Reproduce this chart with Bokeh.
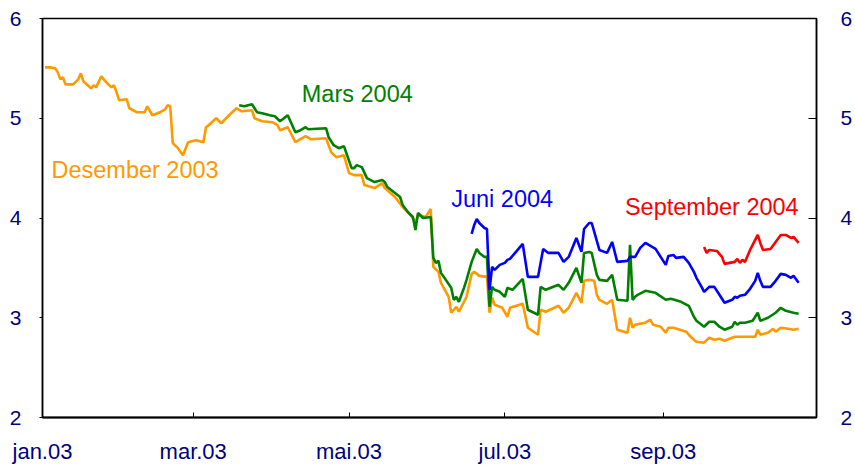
import pandas as pd
from bokeh.plotting import figure
from bokeh.models import LinearAxis, FixedTicker, Range1d
from bokeh.core.properties import value
from bokeh.embed import file_html
from bokeh.resources import INLINE

base = pd.Timestamp("2003-01-01")
x_end = pd.Timestamp("2003-10-31")

tick_dates = ["2003-01-01", "2003-03-01", "2003-05-01", "2003-07-01", "2003-09-01"]
tick_labels = ["jan.03", "mar.03", "mai.03", "jul.03", "sep.03"]
y_ticks = [2, 3, 4, 5, 6]

series_names = ["Desember 2003", "Mars 2004", "Juni 2004", "September 2004"]
series_colors = ["#FF9900", "#008000", "#0000FF", "#FF0000"]

# days since 2003-01-01, values in percent
des03_day = [1, 3, 5, 6, 7, 8, 9, 12, 14, 15, 16, 19, 20, 21, 23, 25, 27, 28, 29, 30,
             33, 34, 37, 40, 41, 43, 46, 48, 49, 50, 51, 53, 55, 57, 60, 63, 64, 65, 68, 70,
             73, 76, 78, 82, 83, 86, 90, 92, 93, 96, 99, 103, 105, 111, 113, 115, 118, 120, 122, 125,
             126, 130, 133, 134, 138, 141, 143, 145, 146, 147, 150, 152, 153, 155, 156, 159, 160, 162, 163, 166,
             168, 169, 171, 174, 175, 176, 177, 180, 182, 183, 188, 190, 194, 195, 197, 202, 204, 206, 209, 211,
             212, 214, 216, 217, 218, 221, 223, 225, 229, 230, 231, 232, 236, 238, 239, 242, 244, 245, 247, 252,
             253, 255, 256, 259, 261, 263, 265, 267, 271, 279, 280, 281, 284, 286, 287, 289, 292, 294, 296]
des03_val = [5.51, 5.51, 5.50, 5.46, 5.39, 5.41, 5.34, 5.34, 5.39, 5.45, 5.37, 5.30, 5.33, 5.31, 5.42, 5.36, 5.31, 5.33, 5.26, 5.18,
             5.19, 5.10, 5.06, 5.06, 5.12, 5.03, 5.06, 5.09, 5.13, 5.12, 4.75, 4.70, 4.63, 4.76, 4.78, 4.76, 4.91, 4.93, 5.00, 4.95,
             5.03, 5.10, 5.07, 5.08, 5.00, 4.97, 4.96, 4.93, 4.88, 4.91, 4.76, 4.82, 4.79, 4.80, 4.66, 4.61, 4.63, 4.45, 4.43, 4.43,
             4.33, 4.30, 4.35, 4.30, 4.21, 4.11, 4.06, 4.00, 3.95, 4.03, 4.01, 4.09, 3.51, 3.46, 3.35, 3.21, 3.05, 3.11, 3.06, 3.21,
             3.44, 3.46, 3.42, 3.41, 3.05, 3.20, 3.13, 3.10, 3.01, 3.10, 3.14, 2.90, 2.83, 3.08, 3.06, 3.12, 3.05, 3.10, 3.25, 3.15,
             3.37, 3.38, 3.37, 3.23, 3.18, 3.14, 3.18, 2.88, 2.85, 3.00, 2.90, 2.93, 2.95, 2.98, 2.93, 2.91, 2.85, 2.90, 2.90, 2.86,
             2.83, 2.78, 2.76, 2.75, 2.80, 2.78, 2.79, 2.77, 2.81, 2.81, 2.88, 2.83, 2.85, 2.89, 2.86, 2.90, 2.89, 2.88, 2.89]

mar04_day = [77, 79, 82, 84, 86, 89, 91, 93, 96, 99, 101, 103, 104, 111, 112, 114, 116, 118, 121, 122,
             123, 125, 127, 130, 133, 134, 135, 138, 140, 141, 143, 145, 146, 147, 149, 152, 153, 154, 155, 156,
             160, 161, 162, 163, 165, 166, 168, 170, 171, 173, 174, 175, 176, 177, 179, 181, 182, 184, 188, 190,
             194, 195, 197, 202, 204, 206, 209, 211, 212, 214, 215, 217, 218, 221, 223, 225, 229, 230, 231, 232,
             233, 236, 238, 240, 244, 246, 250, 253, 255, 256, 258, 259, 261, 263, 265, 267, 270, 271, 272, 273,
             275, 278, 280, 281, 284, 287, 289, 291, 294, 296]
mar04_val = [5.13, 5.12, 5.14, 5.06, 5.05, 5.03, 5.02, 4.97, 5.03, 4.86, 4.88, 4.91, 4.89, 4.90, 4.81, 4.73, 4.70, 4.72, 4.50, 4.50,
             4.53, 4.51, 4.40, 4.36, 4.38, 4.36, 4.31, 4.25, 4.21, 4.13, 4.06, 4.01, 3.88, 4.05, 4.00, 4.01, 3.60, 3.55, 3.57, 3.45,
             3.30, 3.18, 3.21, 3.16, 3.30, 3.38, 3.56, 3.69, 3.65, 3.61, 3.61, 3.11, 3.31, 3.28, 3.26, 3.21, 3.30, 3.28, 3.39, 3.08,
             3.03, 3.31, 3.28, 3.33, 3.28, 3.35, 3.50, 3.35, 3.65, 3.66, 3.65, 3.43, 3.38, 3.37, 3.43, 3.18, 3.17, 3.73, 3.18, 3.21,
             3.23, 3.27, 3.26, 3.25, 3.18, 3.19, 3.16, 3.12, 3.01, 2.97, 2.93, 2.91, 2.96, 2.96, 2.91, 2.88, 2.91, 2.96, 2.93, 2.95,
             2.95, 2.97, 3.05, 2.97, 3.00, 3.05, 3.10, 3.07, 3.05, 3.04]

jun04_day = [168, 169, 170, 171, 173, 174, 175, 176, 177, 179, 181, 182, 183, 186, 188, 190, 194, 196, 198, 202,
             204, 206, 209, 211, 212, 214, 215, 216, 218, 221, 223, 225, 229, 230, 232, 234, 236, 238, 240, 244,
             245, 247, 248, 251, 253, 255, 256, 258, 259, 261, 263, 265, 267, 270, 271, 272, 273, 275, 277, 279,
             280, 281, 282, 285, 287, 289, 291, 293, 294, 296]
jun04_val = [3.84, 3.93, 3.99, 3.95, 3.90, 3.89, 3.28, 3.51, 3.48, 3.53, 3.55, 3.58, 3.59, 3.68, 3.74, 3.41, 3.41, 3.69, 3.65, 3.65,
             3.56, 3.61, 3.80, 3.66, 3.89, 3.95, 3.95, 3.86, 3.68, 3.65, 3.76, 3.56, 3.57, 3.61, 3.61, 3.70, 3.75, 3.72, 3.69, 3.53,
             3.62, 3.63, 3.60, 3.61, 3.55, 3.46, 3.40, 3.31, 3.26, 3.31, 3.31, 3.23, 3.15, 3.18, 3.21, 3.20, 3.22, 3.23, 3.29, 3.37,
             3.45, 3.37, 3.31, 3.31, 3.37, 3.44, 3.43, 3.40, 3.42, 3.35]

sep04_day = [259, 260, 261, 264, 266, 267, 271, 272, 273, 274, 275, 277, 280, 281, 282, 285, 287, 289, 291, 293,
             294, 296]
sep04_val = [3.71, 3.65, 3.68, 3.67, 3.61, 3.54, 3.56, 3.59, 3.55, 3.58, 3.56, 3.68, 3.83, 3.75, 3.68, 3.69, 3.76, 3.83, 3.83, 3.80,
             3.81, 3.75]

series = [(des03_day, des03_val), (mar04_day, mar04_val), (jun04_day, jun04_val), (sep04_day, sep04_val)]

def to_dates(days):
    return base + pd.to_timedelta(days, unit="D")

FONT = "Liberation Sans"
NAVY = "#000080"

p = figure(width=855, height=469, x_axis_type="datetime",
           x_range=Range1d(base, x_end), y_range=Range1d(2, 6),
           output_backend="svg", toolbar_location=None,
           min_border_left=42, min_border_right=36, min_border_top=18, min_border_bottom=52)
p.xgrid.visible = False
p.ygrid.visible = False
p.outline_line_color = "black"
p.outline_line_width = 1.5
p.background_fill_color = "white"
p.border_fill_color = "white"

tick_ms = [int(pd.Timestamp(d).value // 10**6) for d in tick_dates]
xa = p.xaxis[0]
xa.ticker = FixedTicker(ticks=tick_ms)
xa.major_label_overrides = {t: lab for t, lab in zip(tick_ms, tick_labels)}
xa.major_tick_in = 5
xa.major_tick_out = 0
xa.minor_tick_line_color = None
xa.axis_line_width = 2
xa.axis_line_color = "black"
xa.major_tick_line_color = "black"
xa.major_label_text_font = FONT
xa.major_label_text_font_size = "22px"
xa.major_label_text_color = NAVY
xa.major_label_standoff = 21

ya = p.yaxis[0]
ya.ticker = FixedTicker(ticks=y_ticks)
ya.major_tick_in = 0
ya.major_tick_out = 3
ya.minor_tick_line_color = None
ya.axis_line_width = 1.5
ya.axis_line_color = "black"
ya.major_label_text_font = FONT
ya.major_label_text_font_size = "21px"
ya.major_label_text_color = NAVY
ya.major_label_standoff = 18

ra = LinearAxis(ticker=FixedTicker(ticks=y_ticks))
ra.major_tick_in = 8
ra.major_tick_out = 0
ra.minor_tick_line_color = None
ra.axis_line_width = 1.5
ra.axis_line_color = "black"
ra.major_label_text_font = FONT
ra.major_label_text_font_size = "21px"
ra.major_label_text_color = NAVY
ra.major_label_standoff = 24
p.add_layout(ra, "right")

for (days, vals), col in zip(series, series_colors):
    p.line(to_dates(days), vals, line_color=col, line_width=2.6)

label_pos = [(3.5, 4.48), (101.5, 5.24), (160, 4.19), (228, 4.11)]
for name, col, (dx, yv) in zip(series_names, series_colors, label_pos):
    p.text(x=[base + pd.Timedelta(days=dx)], y=[yv], text=[name],
           text_font=value(FONT), text_font_size="23.5px", text_color=col,
           text_align="left", text_baseline="middle")

open("out.html", "w").write(file_html(p, INLINE))
